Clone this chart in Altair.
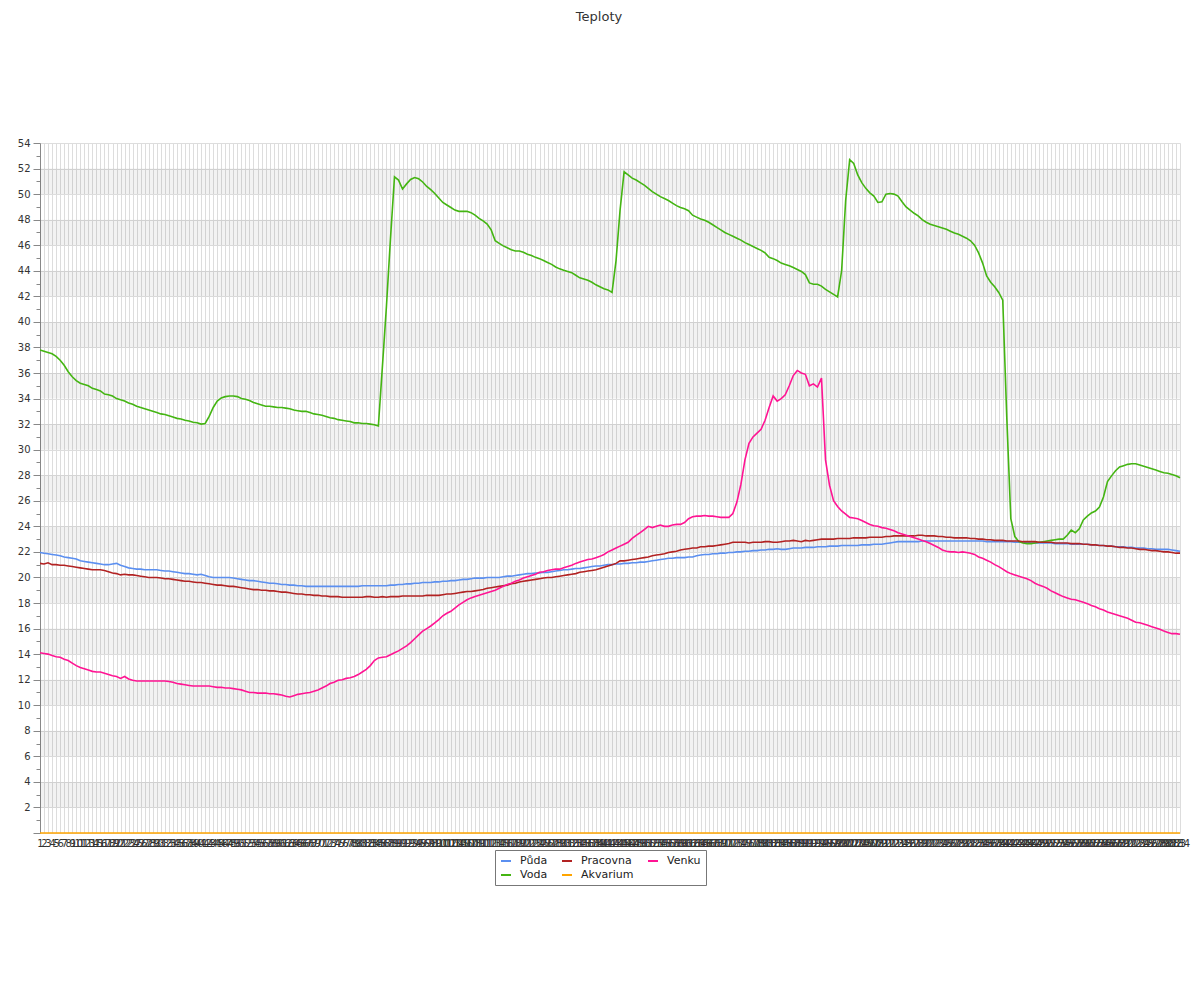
import altair as alt
import pandas as pd

# x categories (1..284)
kategorie = list(range(1, 285))

puda = [
    21.95, 21.9, 21.85, 21.8, 21.75, 21.7, 21.6, 21.55, 21.5, 21.45,
    21.3, 21.25, 21.2, 21.15, 21.1, 21.05, 21.0, 21.0, 21.05, 21.1,
    20.95, 20.85, 20.75, 20.7, 20.65, 20.65, 20.6, 20.6, 20.6, 20.6,
    20.55, 20.5, 20.5, 20.45, 20.4, 20.35, 20.3, 20.3, 20.25, 20.2,
    20.25, 20.15, 20.05, 20.0, 20.0, 20.0, 20.0, 20.0, 19.95, 19.9,
    19.85, 19.8, 19.75, 19.75, 19.7, 19.65, 19.6, 19.55, 19.55, 19.5,
    19.45, 19.45, 19.4, 19.4, 19.35, 19.35, 19.3, 19.3, 19.3, 19.3,
    19.3, 19.3, 19.3, 19.3, 19.3, 19.3, 19.3, 19.3, 19.3, 19.3,
    19.35, 19.35, 19.35, 19.35, 19.35, 19.35, 19.35, 19.4, 19.4, 19.45,
    19.45, 19.5, 19.5, 19.55, 19.55, 19.6, 19.6, 19.6, 19.65, 19.65,
    19.7, 19.7, 19.75, 19.75, 19.8, 19.85, 19.85, 19.9, 19.95, 19.95,
    19.95, 20.0, 20.0, 20.0, 20.0, 20.05, 20.1, 20.1, 20.15, 20.2,
    20.25, 20.3, 20.3, 20.35, 20.35, 20.4, 20.4, 20.45, 20.5, 20.55,
    20.6, 20.6, 20.65, 20.7, 20.7, 20.75, 20.8, 20.85, 20.9, 20.9,
    20.95, 21.0, 21.0, 21.05, 21.05, 21.1, 21.1, 21.15, 21.15, 21.2,
    21.2, 21.25, 21.3, 21.35, 21.4, 21.45, 21.5, 21.5, 21.55, 21.55,
    21.55, 21.6, 21.6, 21.7, 21.75, 21.8, 21.8, 21.85, 21.85, 21.9,
    21.9, 21.95, 21.95, 22.0, 22.0, 22.05, 22.05, 22.1, 22.1, 22.15,
    22.15, 22.2, 22.2, 22.25, 22.2, 22.2, 22.25, 22.3, 22.3, 22.3,
    22.35, 22.35, 22.35, 22.4, 22.4, 22.4, 22.45, 22.45, 22.45, 22.5,
    22.5, 22.5, 22.5, 22.5, 22.55, 22.55, 22.55, 22.6, 22.6, 22.6,
    22.65, 22.7, 22.75, 22.8, 22.8, 22.8, 22.8, 22.8, 22.8, 22.85,
    22.85, 22.85, 22.85, 22.85, 22.85, 22.85, 22.85, 22.85, 22.85, 22.85,
    22.85, 22.85, 22.85, 22.85, 22.85, 22.8, 22.8, 22.8, 22.8, 22.8,
    22.8, 22.8, 22.75, 22.75, 22.75, 22.75, 22.7, 22.7, 22.7, 22.7,
    22.7, 22.7, 22.65, 22.65, 22.65, 22.65, 22.6, 22.6, 22.6, 22.6,
    22.6, 22.55, 22.55, 22.5, 22.5, 22.45, 22.45, 22.4, 22.4, 22.4,
    22.35, 22.35, 22.3, 22.3, 22.3, 22.25, 22.25, 22.2, 22.2, 22.2,
    22.2, 22.15, 22.1, 22.05,
]

voda = [
    37.8, 37.7, 37.6, 37.5, 37.3, 37.0, 36.6, 36.1, 35.7, 35.4,
    35.2, 35.1, 35.0, 34.8, 34.7, 34.6, 34.35, 34.3, 34.2, 34.0,
    33.9, 33.8, 33.65, 33.55, 33.4, 33.3, 33.2, 33.1, 33.0, 32.9,
    32.8, 32.75, 32.65, 32.55, 32.45, 32.4, 32.3, 32.25, 32.15, 32.1,
    32.0, 32.05, 32.6, 33.3, 33.8, 34.05, 34.15, 34.2, 34.2, 34.15,
    34.0, 33.95, 33.85, 33.7, 33.6, 33.5, 33.4, 33.4, 33.35, 33.3,
    33.3, 33.25, 33.2, 33.1, 33.05, 33.0, 33.0, 32.9, 32.8, 32.75,
    32.7, 32.6, 32.5, 32.45, 32.35, 32.3, 32.25, 32.2, 32.1, 32.1,
    32.05, 32.05, 32.0, 31.95, 31.85, 36.5, 41.2, 46.5, 51.35, 51.1,
    50.4, 50.8, 51.15, 51.3, 51.2, 50.95, 50.6, 50.35, 50.05, 49.7,
    49.35, 49.15, 48.95, 48.75, 48.65, 48.65, 48.65, 48.55, 48.35, 48.1,
    47.9, 47.65, 47.2, 46.35, 46.15, 45.95, 45.8, 45.65, 45.55, 45.55,
    45.45, 45.3, 45.2, 45.05, 44.95, 44.8, 44.65, 44.5, 44.3, 44.15,
    44.05, 43.95, 43.85, 43.65, 43.45, 43.35, 43.25, 43.1, 42.9, 42.75,
    42.6, 42.5, 42.3, 44.8, 48.75, 51.75, 51.5, 51.25, 51.1, 50.9,
    50.7, 50.45, 50.2, 50.0, 49.8, 49.65, 49.5, 49.3, 49.1, 48.95,
    48.85, 48.7, 48.35, 48.2, 48.05, 47.95, 47.8, 47.6, 47.4, 47.2,
    47.0, 46.85, 46.7, 46.55, 46.4, 46.2, 46.05, 45.9, 45.75, 45.6,
    45.4, 45.05, 44.95, 44.8, 44.6, 44.5, 44.4, 44.25, 44.1, 43.95,
    43.7, 43.05, 42.95, 42.95, 42.8, 42.55, 42.35, 42.15, 41.95, 44.0,
    49.5, 52.7, 52.4, 51.5, 50.9, 50.45, 50.1, 49.85, 49.35, 49.4,
    50.0, 50.05, 50.0, 49.85, 49.4, 49.0, 48.75, 48.5, 48.3, 48.0,
    47.8, 47.65, 47.55, 47.45, 47.35, 47.25, 47.1, 46.95, 46.85, 46.7,
    46.55, 46.35, 46.0, 45.4, 44.6, 43.6, 43.1, 42.75, 42.3, 41.7,
    32.5, 24.6, 23.2, 22.8, 22.7, 22.65, 22.65, 22.7, 22.75, 22.8,
    22.85, 22.9, 22.95, 23.0, 23.0, 23.3, 23.7, 23.5, 23.8, 24.5,
    24.8, 25.05, 25.2, 25.5, 26.3, 27.5, 27.95, 28.35, 28.65, 28.75,
    28.85, 28.9, 28.9, 28.8, 28.7, 28.6, 28.5, 28.4, 28.3, 28.2,
    28.15, 28.05, 27.95, 27.8,
]

pracovna = [
    21.1, 21.05, 21.15, 21.0, 21.0, 20.95, 20.95, 20.9, 20.85, 20.8,
    20.75, 20.7, 20.65, 20.6, 20.6, 20.6, 20.55, 20.45, 20.35, 20.3,
    20.2, 20.25, 20.2, 20.2, 20.15, 20.1, 20.05, 20.0, 20.0, 20.0,
    19.95, 19.9, 19.9, 19.85, 19.8, 19.75, 19.7, 19.7, 19.65, 19.6,
    19.6, 19.55, 19.5, 19.45, 19.4, 19.4, 19.35, 19.3, 19.3, 19.25,
    19.2, 19.15, 19.1, 19.05, 19.05, 19.0, 19.0, 18.95, 18.95, 18.9,
    18.85, 18.85, 18.8, 18.75, 18.7, 18.7, 18.65, 18.65, 18.6, 18.6,
    18.55, 18.55, 18.5, 18.5, 18.5, 18.45, 18.45, 18.45, 18.45, 18.45,
    18.45, 18.5, 18.5, 18.45, 18.45, 18.5, 18.45, 18.5, 18.5, 18.5,
    18.55, 18.55, 18.55, 18.55, 18.55, 18.55, 18.6, 18.6, 18.6, 18.6,
    18.65, 18.7, 18.7, 18.75, 18.8, 18.85, 18.9, 18.9, 18.95, 19.0,
    19.05, 19.15, 19.2, 19.25, 19.3, 19.35, 19.4, 19.5, 19.55, 19.65,
    19.7, 19.75, 19.8, 19.85, 19.9, 19.95, 20.0, 20.0, 20.05, 20.1,
    20.15, 20.2, 20.25, 20.3, 20.4, 20.45, 20.5, 20.55, 20.6, 20.7,
    20.8, 20.9, 21.0, 21.1, 21.3, 21.3, 21.35, 21.4, 21.45, 21.5,
    21.55, 21.6, 21.7, 21.75, 21.8, 21.85, 21.95, 22.0, 22.05, 22.15,
    22.2, 22.25, 22.3, 22.3, 22.4, 22.4, 22.45, 22.45, 22.5, 22.55,
    22.6, 22.65, 22.75, 22.75, 22.75, 22.75, 22.7, 22.75, 22.75, 22.75,
    22.8, 22.8, 22.75, 22.75, 22.8, 22.85, 22.85, 22.9, 22.85, 22.8,
    22.9, 22.85, 22.9, 22.95, 23.0, 23.0, 23.0, 23.0, 23.05, 23.05,
    23.05, 23.05, 23.1, 23.1, 23.1, 23.1, 23.15, 23.15, 23.15, 23.15,
    23.2, 23.2, 23.25, 23.25, 23.25, 23.25, 23.25, 23.25, 23.3, 23.3,
    23.25, 23.25, 23.25, 23.2, 23.2, 23.15, 23.15, 23.1, 23.1, 23.1,
    23.1, 23.05, 23.05, 23.0, 23.0, 22.95, 22.95, 22.9, 22.9, 22.9,
    22.85, 22.85, 22.85, 22.85, 22.8, 22.8, 22.8, 22.8, 22.75, 22.75,
    22.75, 22.75, 22.7, 22.7, 22.7, 22.7, 22.65, 22.65, 22.65, 22.6,
    22.6, 22.55, 22.55, 22.5, 22.5, 22.45, 22.45, 22.4, 22.35, 22.35,
    22.3, 22.3, 22.25, 22.2, 22.2, 22.15, 22.1, 22.1, 22.05, 22.0,
    22.0, 21.95, 21.9, 21.9,
]

akvarium = [0.0] * 284

venku = [
    14.1, 14.05, 14.0, 13.9, 13.8, 13.75, 13.6, 13.5, 13.3, 13.1,
    12.95, 12.85, 12.75, 12.65, 12.6, 12.6, 12.5, 12.4, 12.3, 12.25,
    12.1, 12.25, 12.05, 11.95, 11.9, 11.9, 11.9, 11.9, 11.9, 11.9,
    11.9, 11.9, 11.85, 11.8, 11.7, 11.65, 11.6, 11.55, 11.5, 11.5,
    11.5, 11.5, 11.5, 11.45, 11.4, 11.4, 11.35, 11.35, 11.3, 11.25,
    11.2, 11.1, 11.0, 11.0, 10.95, 10.95, 10.95, 10.9, 10.9, 10.85,
    10.8, 10.7, 10.65, 10.75, 10.85, 10.9, 10.95, 11.0, 11.1, 11.2,
    11.35, 11.5, 11.7, 11.8, 11.95, 12.0, 12.1, 12.15, 12.25, 12.4,
    12.6, 12.8, 13.1, 13.5, 13.7, 13.75, 13.8, 13.95, 14.1, 14.25,
    14.45, 14.65, 14.9, 15.2, 15.5, 15.8, 16.0, 16.2, 16.45, 16.7,
    17.0, 17.2, 17.35, 17.6, 17.85, 18.05, 18.25, 18.4, 18.5, 18.6,
    18.7, 18.8, 18.9, 19.0, 19.15, 19.3, 19.45, 19.55, 19.7, 19.8,
    19.95, 20.05, 20.15, 20.25, 20.4, 20.45, 20.55, 20.6, 20.65, 20.65,
    20.75, 20.85, 20.95, 21.1, 21.2, 21.3, 21.4, 21.45, 21.55, 21.65,
    21.8, 22.0, 22.15, 22.3, 22.45, 22.6, 22.75, 23.05, 23.3, 23.5,
    23.75, 24.0, 23.9, 24.0, 24.1, 24.0, 24.0, 24.1, 24.15, 24.15,
    24.3, 24.6, 24.75, 24.8, 24.8, 24.85, 24.8, 24.8, 24.75, 24.7,
    24.7, 24.7, 25.0, 25.9, 27.3, 29.2, 30.5, 31.0, 31.3, 31.6,
    32.3, 33.3, 34.2, 33.8, 34.0, 34.3, 35.0, 35.8, 36.2, 36.0,
    35.9, 35.0, 35.15, 34.9, 35.6, 29.2, 27.2, 26.0, 25.55, 25.2,
    24.95, 24.7, 24.65, 24.6, 24.45, 24.3, 24.15, 24.05, 24.0, 23.9,
    23.85, 23.75, 23.65, 23.5, 23.4, 23.3, 23.2, 23.1, 23.0, 22.9,
    22.8, 22.65, 22.5, 22.35, 22.15, 22.05, 22.0, 22.0, 21.95, 22.0,
    21.95, 21.9, 21.8, 21.6, 21.5, 21.35, 21.2, 21.0, 20.85, 20.65,
    20.45, 20.3, 20.2, 20.1, 20.0, 19.9, 19.75, 19.55, 19.4, 19.3,
    19.15, 18.95, 18.8, 18.65, 18.5, 18.4, 18.3, 18.25, 18.15, 18.05,
    17.95, 17.8, 17.7, 17.55, 17.45, 17.3, 17.2, 17.1, 17.0, 16.9,
    16.8, 16.65, 16.5, 16.45, 16.35, 16.25, 16.15, 16.05, 15.95, 15.8,
    15.7, 15.6, 15.6, 15.55,
]

# legend is filled column by column: (Půda, Voda) (Pracovna, Akvarium) (Venku)
serie = ["Půda", "Voda", "Pracovna", "Akvarium", "Venku"]
barvy = ["#5B8FF0", "#44B512", "#B22222", "#FFA500", "#FF1493"]

pasma_od = [2, 6, 10, 14, 18, 22, 26, 30, 34, 38, 42, 46, 50]
pasma_do = [4, 8, 12, 16, 20, 24, 28, 32, 36, 40, 44, 48, 52]
y_hodnoty = list(range(0, 55))

rows = []
for name, vals in zip(serie, [puda, voda, pracovna, akvarium, venku]):
    for k, v in zip(kategorie, vals):
        rows.append({"k": k, "serie": name, "t": v})
df = pd.DataFrame(rows)
bands = pd.DataFrame({"y1": pasma_od, "y2": pasma_do})

y_axis = alt.Axis(
    title=None,
    values=y_hodnoty,
    labelExpr="datum.value % 2 == 0 && datum.value > 0 ? datum.label : ''",
    tickSize={"condition": {"test": "datum.value % 2 == 0", "value": 7}, "value": 4},
    gridOpacity={"condition": {"test": "datum.value % 2 == 0", "value": 1}, "value": 0},
    grid=True,
    gridColor="#dddddd",
    domainColor="#888888",
    tickColor="#888888",
    labelFontSize=10,
    labelColor="#333333",
    labelPadding=3,
)
y_scale = alt.Scale(domain=[0, 54], nice=False, zero=False)

band_layer = alt.Chart(bands).mark_rect(fill="#000000", opacity=0.05).encode(
    x=alt.value(0),
    x2=alt.value("width"),
    y=alt.Y("y1:Q", scale=y_scale, axis=y_axis),
    y2="y2:Q",
)

line_layer = alt.Chart(df).mark_line(strokeWidth=1.6).encode(
    x=alt.X(
        "k:O",
        scale=alt.Scale(type="point", padding=0),
        axis=alt.Axis(
            title=None,
            labelAngle=0,
            labelOverlap=False,
            grid=True,
            gridColor="#dddddd",
            domain=False,
            ticks=False,
            labelFontSize=10,
            labelColor="#333333",
            labelPadding=5,
        ),
    ),
    y=alt.Y("t:Q", scale=y_scale, axis=y_axis),
    color=alt.Color(
        "serie:N",
        scale=alt.Scale(domain=serie, range=barvy),
        legend=alt.Legend(
            title=None,
            orient="none",
            legendX=455,
            legendY=707,
            columns=3,
            symbolType="stroke",
            symbolStrokeWidth=2,
            symbolSize=100,
            labelFontSize=11,
            labelFont="DejaVu Sans",
            labelColor="#222222",
            strokeColor="#777777",
            fillColor="#ffffff",
            padding=5,
            columnPadding=10,
            rowPadding=3,
            labelOffset=8,
        ),
    ),
    order=alt.Order("k:O"),
)

chart = (
    alt.layer(band_layer, line_layer)
    .properties(
        width=1140,
        height=690,
        autosize="none",
        padding={"left": 32, "top": 135, "right": 12, "bottom": 150},
        title=alt.Title(
            "Teploty",
            fontSize=13,
            font="DejaVu Sans",
            fontWeight="normal",
            color="#333333",
            anchor="middle",
            offset=114,
            dx=-11,
        ),
    )
    .configure_view(stroke=None)
    .configure_axis(labelFont="DejaVu Sans")
)

chart.save("out.html", embed_options={"renderer": "svg", "actions": False})
